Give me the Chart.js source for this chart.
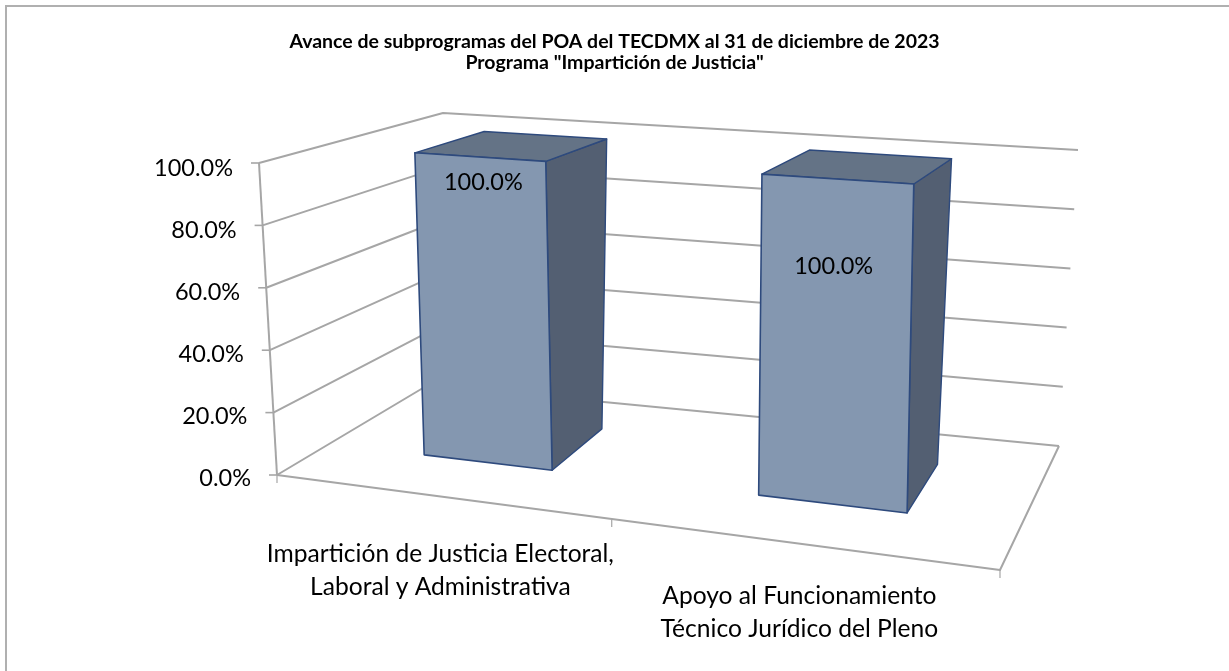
<!DOCTYPE html>
<html>
<head>
<meta charset="utf-8">
<style>
  html, body { margin: 0; padding: 0; background: #fff; }
  canvas { display: block; }
</style>
<script src="https://cdn.jsdelivr.net/npm/chart.js@4"></script>
</head>
<body>
<canvas id="myChart" width="1229" height="671"></canvas>
<script>
var categories = [
    ["Impartición de Justicia Electoral,", "Laboral y Administrativa"],
    ["Apoyo al Funcionamiento", "Técnico Jurídico del Pleno"]
];
var avance = [100, 100];
var titleLines = ['Avance de subprogramas del POA del TECDMX al 31 de diciembre de 2023', 'Programa "Impartición de Justicia"'];

var FONT = 'Lato, "Open Sans", sans-serif';

// corners of the 3D box as seen in the picture
var box = {
    frontBottomLeft: [277, 475], frontBottomRight: [1000, 570],
    backBottomLeft: [428, 385], backBottomRight: [1059, 446],
    frontTopLeft: [259, 163], frontTopRight: [1004, 214],
    backTopLeft: [443, 113], backTopRight: [1078, 150]
};
var perspective = 1.16;   // the x axis shrinks towards the right
var barDepth = [0.35, 0.76];
var barNudge = 0.005;
var barTopShift = [[-5, 1], [0, 0]];
// where the pieces of text sit relative to the projected bar
var dataLabelShift = [[-1, 26], [-3, 87]];
var catLabelShift = [[2, 58], [1, 53]];
var catLineGap = 33;

function mix(a, b, t) {
    return [a[0] + (b[0] - a[0]) * t, a[1] + (b[1] - a[1]) * t];
}

// u along the categories, v up the values, w into the depth (all 0..1)
function project(u, v, w) {
    var s = u / (u + perspective * (1 - u));
    var bottom = mix(mix(box.frontBottomLeft, box.frontBottomRight, s), mix(box.backBottomLeft, box.backBottomRight, s), w);
    var top = mix(mix(box.frontTopLeft, box.frontTopRight, s), mix(box.backTopLeft, box.backTopRight, s), w);
    return mix(bottom, top, v);
}

function poly(ctx, pts, fill, stroke, width) {
    ctx.beginPath();
    pts.forEach(function (p, i) {
        if (i == 0) ctx.moveTo(p[0], p[1]); else ctx.lineTo(p[0], p[1]);
    });
    if (fill) {
        ctx.closePath();
        ctx.fillStyle = fill;
        ctx.fill();
    }
    if (stroke) {
        ctx.strokeStyle = stroke;
        ctx.lineWidth = width;
        ctx.lineJoin = 'round';
        ctx.stroke();
    }
}

var GRID = '#a6a6a6';

var bars3d = {
    id: 'bars3d',
    beforeDraw: function (chart) {
        // the picture is cropped: only the top and left of the frame show
        var ctx = chart.ctx;
        ctx.save();
        ctx.strokeStyle = '#b0b0b0';
        ctx.lineWidth = 2;
        ctx.strokeRect(6, 6, 1400, 900);
        ctx.restore();
    },
    beforeDatasetsDraw: function (chart) {
        var ctx = chart.ctx;
        var y = chart.scales.y;
        var x = chart.scales.x;
        ctx.save();

        // walls, gridlines and value labels, one per y tick
        y.ticks.forEach(function (t) {
            var py = y.getPixelForValue(t.value);
            var v = (y.bottom - py) / (y.bottom - y.top);
            var a = project(0, v, 0);
            poly(ctx, [a, project(0, v, 1), project(1, v, 1)], null, GRID, 2);
            poly(ctx, [[a[0] - 8, a[1]], a], null, GRID, 1.6);
            ctx.fillStyle = '#000';
            ctx.font = '23.5px ' + FONT;
            ctx.textAlign = 'right';
            ctx.textBaseline = 'middle';
            ctx.fillText(t.value.toFixed(1) + '%', a[0] - 26, py + 1);
        });
        poly(ctx, [project(0, 0, 0), project(0, 1, 0)], null, GRID, 2);

        // floor
        poly(ctx, [project(0, 0, 0), project(1, 0, 0), project(1, 0, 1)], null, GRID, 2);

        // ticks under the front edge
        var count = categories.length;
        for (var i = 0; i <= count; i++) {
            var p = project(i / count, 0, 0);
            poly(ctx, [p, [p[0], p[1] + 8]], null, GRID, 1.2);
        }

        // category labels
        ctx.fillStyle = '#000';
        ctx.font = '24.6px ' + FONT;
        ctx.textAlign = 'center';
        ctx.textBaseline = 'middle';
        categories.forEach(function (lines, i) {
            var u = (x.getPixelForValue(i) - chart.chartArea.left) / chart.chartArea.width;
            var p = project(u, 0, 0);
            lines.forEach(function (line, j) {
                ctx.fillText(line, p[0] + catLabelShift[i][0], p[1] + catLabelShift[i][1] + j * catLineGap);
            });
        });
        ctx.restore();
    },
    afterDatasetsDraw: function (chart) {
        var ctx = chart.ctx;
        var area = chart.chartArea;
        var meta = chart.getDatasetMeta(0);
        ctx.save();
        meta.data.forEach(function (bar, i) {
            var u0 = (bar.x - bar.width / 2 - area.left) / area.width + barNudge;
            var u1 = (bar.x + bar.width / 2 - area.left) / area.width + barNudge;
            var v0 = (area.bottom - bar.base) / area.height;
            var v1 = (area.bottom - bar.y) / area.height;
            var w0 = barDepth[0], w1 = barDepth[1];
            var edge = '#2e4a7d';

            function topPt(u, w) {
                var p = project(u, v1, w);
                return [p[0] + barTopShift[i][0], p[1] + barTopShift[i][1]];
            }
            var side = [project(u1, v0, w0), topPt(u1, w0), topPt(u1, w1), project(u1, v0, w1)];
            var top = [topPt(u0, w0), topPt(u1, w0), topPt(u1, w1), topPt(u0, w1)];
            var front = [project(u0, v0, w0), project(u1, v0, w0), topPt(u1, w0), topPt(u0, w0)];
            poly(ctx, side, '#535f72', edge, 1.4);
            poly(ctx, top, '#647386', edge, 1.4);
            poly(ctx, front, '#8497b0', edge, 1.6);

            var c = project((u0 + u1) / 2, v1, w0);
            ctx.fillStyle = '#000';
            ctx.font = '23.5px ' + FONT;
            ctx.textAlign = 'center';
            ctx.textBaseline = 'middle';
            ctx.fillText(avance[i].toFixed(1) + '%', c[0] + dataLabelShift[i][0], c[1] + dataLabelShift[i][1]);
        });
        ctx.restore();
    }
};

var ctx = document.getElementById('myChart').getContext('2d');
var chart = new Chart(ctx, {
    type: 'bar',
    data: {
        labels: categories,
        datasets: [{
            data: avance,
            backgroundColor: 'rgba(0,0,0,0)',
            borderWidth: 0,
            barPercentage: 0.4,
            categoryPercentage: 1
        }]
    },
    options: {
        responsive: false,
        animation: false,
        layout: { padding: { left: 0, right: 0, top: 0, bottom: 194 } },
        plugins: {
            legend: { display: false },
            tooltip: { enabled: false },
            title: {
                display: true,
                text: titleLines,
                color: '#000',
                font: { family: FONT, size: 19.5, weight: 'bold', lineHeight: 1.08 },
                padding: { top: 31, bottom: 94 }
            }
        },
        scales: {
            x: { display: false },
            y: {
                min: 0,
                max: 100,
                afterFit: function (scale) { scale.width = 258; },
                grid: { display: false },
                border: { display: false },
                ticks: { display: false, stepSize: 20 }
            }
        }
    },
    plugins: [bars3d]
});
</script>
</body>
</html>
